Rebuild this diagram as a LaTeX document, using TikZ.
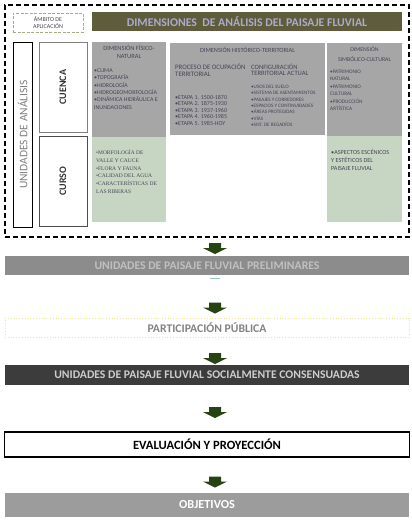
\documentclass[tikz,border=0pt]{standalone}
\usepackage{fontspec}
\setmainfont{Carlito}
\newfontfamily\serifx{Liberation Serif}
\definecolor{hdrolive}{RGB}{94,92,58}
\definecolor{hdrtext}{RGB}{172,170,205}
\definecolor{boxgray}{RGB}{166,166,166}
\definecolor{boxgreen}{RGB}{198,214,194}
\definecolor{smalltext}{RGB}{72,68,88}
\definecolor{bandgray}{RGB}{140,140,140}
\definecolor{bandtext}{RGB}{192,192,192}
\definecolor{banddark}{RGB}{60,60,60}
\definecolor{banddarktext}{RGB}{205,205,205}
\definecolor{objgray}{RGB}{156,156,156}
\definecolor{arrowgreen}{RGB}{38,68,18}
\definecolor{ambitoline}{RGB}{170,170,130}
\definecolor{partline}{RGB}{232,232,150}
\definecolor{parttext}{RGB}{130,130,130}
\definecolor{tealmark}{RGB}{150,200,180}
\begin{document}
\begin{tikzpicture}[x=1pt,y=-1pt,
  rect/.style={inner sep=0pt, outer sep=0pt},
  graybox/.style={rect, fill=boxgray},
  greenbox/.style={rect, fill=boxgreen},
  band/.style={rect, minimum width=404, font=\fontsize{11.7}{13}\selectfont\bfseries},
  tiny/.style={inner sep=0pt, text=smalltext, align=left},
  blockarrow/.pic={\fill[arrowgreen] (-6,0) -- (6,0) -- (6,5) -- (12,5) -- (0,11) -- (-12,5) -- (-6,5) -- cycle;}
]
\useasboundingbox (0,0) rectangle (412,520);

% outer dashed frame
\node[rect, draw=black, line width=1.3pt, dash pattern=on 5pt off 3pt,
      minimum width=404, minimum height=232] (outer) at (207,121) {};

% header
\node[rect, fill=hdrolive, minimum width=310, minimum height=19,
      text=hdrtext, font=\fontsize{11.8}{13}\selectfont\bfseries] (hdr) at (247,21.5)
      {DIMENSIONES\ \ DE ANÁLISIS DEL PAISAJE FLUVIAL};

% ambito
\node[rect, draw=ambitoline, line width=1pt, dash pattern=on 3pt off 1.5pt,
      minimum width=70, minimum height=19, align=center, text=smalltext,
      font=\fontsize{6}{7.5}\selectfont] (ambito) at (48,22.5) {ÁMBITO DE\\APLICACIÓN};

% unidades de análisis
\node[rect, draw=black, line width=0.8pt, minimum width=19, minimum height=185] (unid) at (22.5,134.5) {};
\node[rotate=90, text=gray, font=\fontsize{11.5}{12}\selectfont] (unidtxt) at (unid.center) {UNIDADES DE ANÁLISIS};

% cuenca / curso
\node[rect, draw=gray, line width=0.6pt, minimum width=48, minimum height=90] (cuenca) at (63,87) {};
\node[rotate=90, font=\fontsize{10}{11}\selectfont\bfseries, text=black!80] (cuencatxt) at (cuenca.center) {CUENCA};
\node[rect, draw=black!70, line width=0.6pt, minimum width=48, minimum height=90] (curso) at (63,181) {};
\node[rotate=90, font=\fontsize{10}{11}\selectfont\bfseries, text=black!80] (cursotxt) at (curso.center) {CURSO};

% dimension fisico-natural
\node[graybox, minimum width=74, minimum height=95] (fis) at (129,89.5) {};
\node[tiny, align=center, font=\fontsize{6.4}{8}\selectfont] (fistit) at (129,52) {DIMENSIÓN FÍSICO-\\NATURAL};
\node[tiny, anchor=north west, font=\fontsize{5.9}{7.3}\selectfont] (fislist) at (94,68.5)
  {•CLIMA\\•TOPOGRAFÍA\\•HIDROLOGÍA\\•HIDROGEOMORFOLOGÍA\\•DINÁMICA HIDRÁULICA E\\INUNDACIONES};
\node[greenbox, minimum width=74, minimum height=85] (fisg) at (129,179.5) {};
\node[tiny, anchor=north west, font=\serifx\fontsize{5.5}{7.8}\selectfont] (fisglist) at (96,149.5)
  {•MORFOLOGÍA DE\\VALLE Y CAUCE\\•FLORA Y FAUNA\\•CALIDAD DEL AGUA\\•CARACTERÍSTICAS DE\\LAS RIBERAS};

% dimension historico-territorial
\node[graybox, minimum width=155, minimum height=92] (his) at (247.5,89) {};
\node[tiny, font=\fontsize{6.3}{7}\selectfont] (histit) at (247.5,50) {DIMENSIÓN HISTÓRICO-TERRITORIAL};
\node[tiny, anchor=west, font=\fontsize{6.8}{6.5}\selectfont] (hisl) at (175,70) {PROCESO DE OCUPACIÓN\\TERRITORIAL};
\node[tiny, anchor=north west, font=\fontsize{6}{6.5}\selectfont] (hislist) at (175,95)
  {•ETAPA 1. 1500-1870\\•ETAPA 2. 1875-1930\\•ETAPA 3. 1937-1960\\•ETAPA 4. 1960-1985\\•ETAPA 5. 1985-HOY};
\node[tiny, anchor=west, font=\fontsize{6.6}{6.5}\selectfont] (hisr) at (251,70) {CONFIGURACIÓN\\TERRITORIAL ACTUAL};
\node[tiny, anchor=north west, font=\fontsize{5.1}{6.3}\selectfont] (hisrlist) at (251,85)
  {•USOS DEL SUELO\\•SISTEMA DE ASENTAMIENTOS\\•PASAJES Y CORREDORES\\•ESPACIOS Y CONTINUIDADES\\•ÁREAS PROTEGIDAS\\•VÍAS\\•SIST. DE REGADÍOS};

% dimension simbolico-cultural
\node[graybox, minimum width=75, minimum height=93] (sim) at (364.5,89.5) {};
\node[tiny, align=center, font=\fontsize{5.8}{9.5}\selectfont] (simtit) at (364.5,54) {DIMENSIÓN\\SIMBÓLICO-CULTURAL};
\node[tiny, anchor=north west, font=\fontsize{5.3}{7.5}\selectfont] (simlist) at (330,69.5)
  {•PATRIMONIO\\NATURAL\\•PATRIMONIO\\CULTURAL\\•PRODUCCIÓN\\ARTÍSTICA};
\node[greenbox, minimum width=75, minimum height=86] (simg) at (364.5,179) {};
\node[tiny, anchor=north west, font=\fontsize{6.2}{7.6}\selectfont] (simglist) at (331,149.5)
  {•ASPECTOS ESCÉNICOS\\Y ESTÉTICOS DEL\\PAISAJE FLUVIAL};

% lower sequence
\node[band, fill=bandgray, minimum height=19, text=bandtext] (prelim) at (207,265.5)
  {UNIDADES DE PAISAJE FLUVIAL PRELIMINARES};
\draw[tealmark, line width=0.6pt] (210,278) -- (220,278);
\node[band, draw=partline, dotted, line width=0.8pt, minimum height=19, text=parttext] (partic) at (207,327.5)
  {PARTICIPACIÓN PÚBLICA};
\node[band, fill=banddark, minimum height=20, text=banddarktext] (consens) at (207,375)
  {UNIDADES DE PAISAJE FLUVIAL SOCIALMENTE CONSENSUADAS};
\node[band, draw=black, line width=1.2pt, minimum width=405, minimum height=25, text=black,
      font=\fontsize{12.6}{14}\selectfont\bfseries] (eval) at (207,444.5)
  {EVALUACIÓN Y PROYECCIÓN};
\node[band, fill=objgray, minimum height=24, text=white, font=\fontsize{12.3}{14}\selectfont\bfseries] (obj) at (207,505)
  {OBJETIVOS};

% block arrows
\pic at (215,243) {blockarrow};
\pic at (215,302.5) {blockarrow};
\pic at (215,353) {blockarrow};
\pic at (215,407) {blockarrow};
\pic at (215,476.5) {blockarrow};
\end{tikzpicture}
\end{document}
